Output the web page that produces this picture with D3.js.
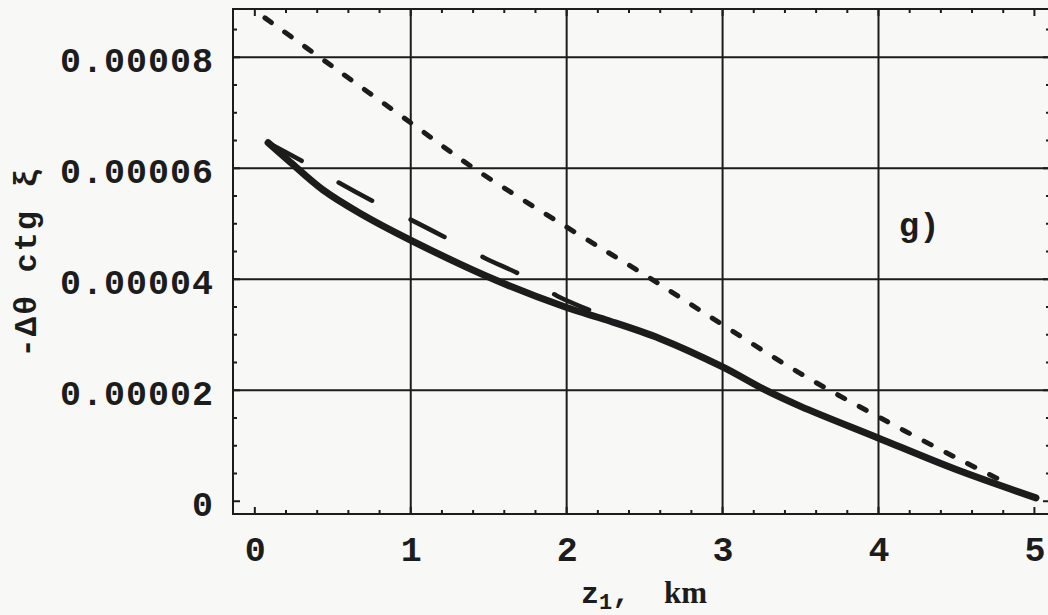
<!DOCTYPE html>
<html>
<head>
<meta charset="utf-8">
<script src="https://cdn.jsdelivr.net/npm/d3@7"></script>
<style>
  html, body { margin: 0; padding: 0; background: #f8f8f6; }
  svg { display: block; }
</style>
</head>
<body>
<svg id="chart" width="1048" height="615"></svg>
<script>
// Axis ticks and labels
const xTicks = [0, 1, 2, 3, 4, 5];
const xTickLabels = ["0", "1", "2", "3", "4", "5"];
const yTicks = [0, 0.00002, 0.00004, 0.00006, 0.00008];
const yTickLabels = ["0", "0.00002", "0.00004", "0.00006", "0.00008"];

// Solid curve
const solidX = [0.085, 0.227, 0.437, 0.674, 0.995, 1.54, 2.0, 2.25, 2.6, 3.0, 3.27, 3.5, 3.99, 4.49, 5.01];
const solidY = [0.0000646, 0.0000611, 0.0000561, 0.0000519, 0.0000471, 0.0000399, 0.0000349, 0.0000327, 0.0000293, 0.0000242, 0.0000201, 0.0000171, 0.0000115, 0.0000058, 0.0000006];

// Long-dashed curve
const longDashX = [0.085, 0.322, 0.546, 0.783, 1.002, 1.252, 1.477, 1.721, 1.939, 2.195];
const longDashY = [0.0000646, 0.0000610, 0.0000573, 0.0000537, 0.0000507, 0.0000471, 0.0000438, 0.0000406, 0.0000370, 0.0000339];

// Short-dashed curve
const shortDashX = [0.065, 0.5, 1.0, 1.4, 2.0, 2.5, 3.0, 3.5, 4.0, 4.5, 4.82];
const shortDashY = [0.0000871, 0.0000783, 0.0000682, 0.0000601, 0.0000494, 0.0000408, 0.0000318, 0.0000230, 0.0000152, 0.0000078, 0.0000033];

const panelLabel = "g)";

const svg = d3.select("#chart");
const W = 1048, H = 615;
const mLeft = 233, mTop = 9, mRight = 1050, mBottom = 514;
const ink = "#1c1c1c";

svg.append("rect").attr("width", W).attr("height", H).attr("fill", "#f8f8f6");

const x = d3.scaleLinear().domain([-0.14, 5.1]).range([mLeft, mRight]);
const y = d3.scaleLinear().domain([-0.0000023, 0.0000887]).range([mBottom, mTop]);

// grid lines at major ticks (inside the frame only)
const g = svg.append("g");
g.selectAll("line.vgrid")
  .data(xTicks.filter(d => d > 0 && d < 5))
  .join("line")
  .attr("x1", d => x(d)).attr("x2", d => x(d))
  .attr("y1", mTop).attr("y2", mBottom)
  .attr("stroke", ink).attr("stroke-width", 2);
g.selectAll("line.hgrid")
  .data(yTicks.filter(d => d > 0))
  .join("line")
  .attr("x1", mLeft).attr("x2", mRight)
  .attr("y1", d => y(d)).attr("y2", d => y(d))
  .attr("stroke", ink).attr("stroke-width", 2);

// frame
g.append("rect")
  .attr("x", mLeft).attr("y", mTop)
  .attr("width", mRight - mLeft).attr("height", mBottom - mTop)
  .attr("fill", "none").attr("stroke", ink).attr("stroke-width", 2);

// inward ticks on all sides
const xMinor = d3.range(0, 5.01, 0.2).map(v => +v.toFixed(2));
const yMinor = d3.range(0, 0.0000876, 0.000005).map(v => +v.toPrecision(3));
function tickLen(isMajor) { return isMajor ? 7 : 4; }
const isMajorX = v => Math.abs(v - Math.round(v)) < 1e-6;
const isMajorY = v => Math.abs(v / 0.00002 - Math.round(v / 0.00002)) < 1e-6;

g.selectAll("line.bt").data(xMinor).join("line")
  .attr("x1", d => x(d)).attr("x2", d => x(d))
  .attr("y1", mBottom).attr("y2", d => mBottom - tickLen(isMajorX(d)))
  .attr("stroke", ink).attr("stroke-width", 2);
g.selectAll("line.tt").data(xMinor).join("line")
  .attr("x1", d => x(d)).attr("x2", d => x(d))
  .attr("y1", mTop).attr("y2", d => mTop + tickLen(isMajorX(d)))
  .attr("stroke", ink).attr("stroke-width", 2);
g.selectAll("line.lt").data(yMinor).join("line")
  .attr("x1", mLeft).attr("x2", d => mLeft + tickLen(isMajorY(d)))
  .attr("y1", d => y(d)).attr("y2", d => y(d))
  .attr("stroke", ink).attr("stroke-width", 2);
g.selectAll("line.rt").data(yMinor).join("line")
  .attr("x1", mRight).attr("x2", d => mRight - tickLen(isMajorY(d)))
  .attr("y1", d => y(d)).attr("y2", d => y(d))
  .attr("stroke", ink).attr("stroke-width", 2);

// tick labels through d3 axes
const monoFont = "'Liberation Mono', 'Courier New', monospace";
const xAxis = svg.append("g")
  .attr("transform", `translate(0,${mBottom})`)
  .call(d3.axisBottom(x).tickValues(xTicks).tickFormat((d, i) => xTickLabels[i]).tickSize(0).tickPadding(22));
const yAxis = svg.append("g")
  .attr("transform", `translate(${mLeft},0)`)
  .call(d3.axisLeft(y).tickValues(yTicks).tickFormat((d, i) => yTickLabels[i]).tickSize(0).tickPadding(19));
[xAxis, yAxis].forEach(a => {
  a.select(".domain").remove();
  a.selectAll("text")
    .attr("fill", ink)
    .style("font-family", monoFont)
    .style("font-weight", "bold")
    .style("font-size", "35px");
});
xAxis.selectAll("text").attr("dy", "0.71em");
yAxis.selectAll("text").attr("dy", "0.4em").style("letter-spacing", "1px");

// curves
const lineGen = d3.line().x(d => x(d[0])).y(d => y(d[1])).curve(d3.curveCatmullRom.alpha(0.5));
const zip = (xs, ys) => xs.map((v, i) => [v, ys[i]]);

svg.append("path")
  .datum(zip(shortDashX, shortDashY))
  .attr("d", lineGen)
  .attr("fill", "none").attr("stroke", ink)
  .attr("stroke-width", 5).attr("stroke-linecap", "round")
  .attr("stroke-dasharray", "8 16.5");

svg.append("path")
  .datum(zip(longDashX, longDashY))
  .attr("d", lineGen)
  .attr("fill", "none").attr("stroke", ink)
  .attr("stroke-width", 4.5).attr("stroke-linecap", "round")
  .attr("stroke-dasharray", "38 43");

svg.append("path")
  .datum(zip(solidX, solidY))
  .attr("d", lineGen)
  .attr("fill", "none").attr("stroke", ink)
  .attr("stroke-width", 7).attr("stroke-linecap", "round")
  .attr("stroke-linejoin", "round");

// panel label
svg.append("text")
  .attr("x", x(4.13)).attr("y", y(0.0000478))
  .attr("fill", ink)
  .style("font-family", monoFont).style("font-weight", "bold").style("font-size", "34px")
  .text(panelLabel);

// x-axis title
const xt = svg.append("text")
  .attr("x", 581).attr("y", 603)
  .attr("fill", ink)
  .style("font-family", monoFont).style("font-weight", "bold").style("font-size", "30px");
xt.append("tspan").text("z");
xt.append("tspan").attr("dy", 6).style("font-size", "22px").text("1");
xt.append("tspan").attr("dy", -6).text(",");
xt.append("tspan").attr("x", 664)
  .style("font-family", "'Liberation Serif', 'Times New Roman', serif")
  .style("font-size", "31px").text("km");

// y-axis title
svg.append("text")
  .attr("transform", "translate(36,262) rotate(-90)")
  .attr("text-anchor", "middle")
  .attr("fill", ink)
  .style("font-family", monoFont).style("font-weight", "bold").style("font-size", "32px")
  .style("letter-spacing", "2px")
  .text("-Δθ ctg ξ");
</script>
</body>
</html>
